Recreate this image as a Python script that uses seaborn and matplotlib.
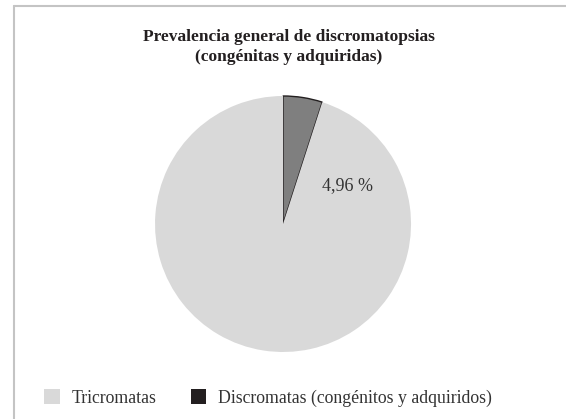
"""Pie chart: prevalencia general de discromatopsias."""
import matplotlib
matplotlib.use("Agg")
import matplotlib.pyplot as plt
from matplotlib.lines import Line2D
from matplotlib.patches import Patch
import seaborn as sns

categories = ["Tricromatas", "Discromatas (congénitos y adquiridos)"]
percentages = [95.04, 4.96]
slice_colors = ["#d9d9d9", "#7f7f7f"]
legend_colors = ["#d9d9d9", "#231f20"]
pct_label = "4,96 %"

sns.set_theme(style="white")
plt.rcParams["font.family"] = ["Liberation Serif", "DejaVu Serif"]

fig = plt.figure(figsize=(5.66, 4.19), dpi=100)
ax = fig.add_axes([0.2739, 0.1599, 0.4523, 0.611])

# draw the small slice first so it starts at 12 o'clock going clockwise
wedges, _ = ax.pie(
    percentages[::-1], colors=slice_colors[::-1], startangle=90,
    counterclock=False, radius=1,
)
wedges[0].set_edgecolor("#231f20")
wedges[0].set_linewidth(1.0)
wedges[1].set_edgecolor("none")
ax.set_xlim(-1, 1)
ax.set_ylim(-1, 1)
ax.set_aspect("equal")
ax.text(0.5, 0.3, pct_label, fontsize=13, color="#333333",
        ha="center", va="center")

fig.text(0.51, 0.888, "Prevalencia general de discromatopsias\n(congénitas y adquiridas)",
         ha="center", va="center", fontsize=12.5, fontweight="bold",
         color="#231f20", linespacing=1.3)

handles = [Patch(facecolor=c, edgecolor="none") for c in legend_colors]
fig.legend(handles, categories, loc="center", bbox_to_anchor=(0.474, 0.05),
           ncol=2, frameon=False, fontsize=12.8, handlelength=0.85,
           handleheight=0.85, columnspacing=1.9, handletextpad=0.7,
           labelcolor="#333333")

# light gray frame on the left and top
fig.add_artist(Line2D([0.0239, 0.0239], [0, 0.9845], color="#c4c4c4", lw=1.5,
                      transform=fig.transFigure))
fig.add_artist(Line2D([0.0239, 1.0], [0.9845, 0.9845], color="#c4c4c4", lw=1.5,
                      transform=fig.transFigure))

fig.savefig("out.png", dpi=100)
